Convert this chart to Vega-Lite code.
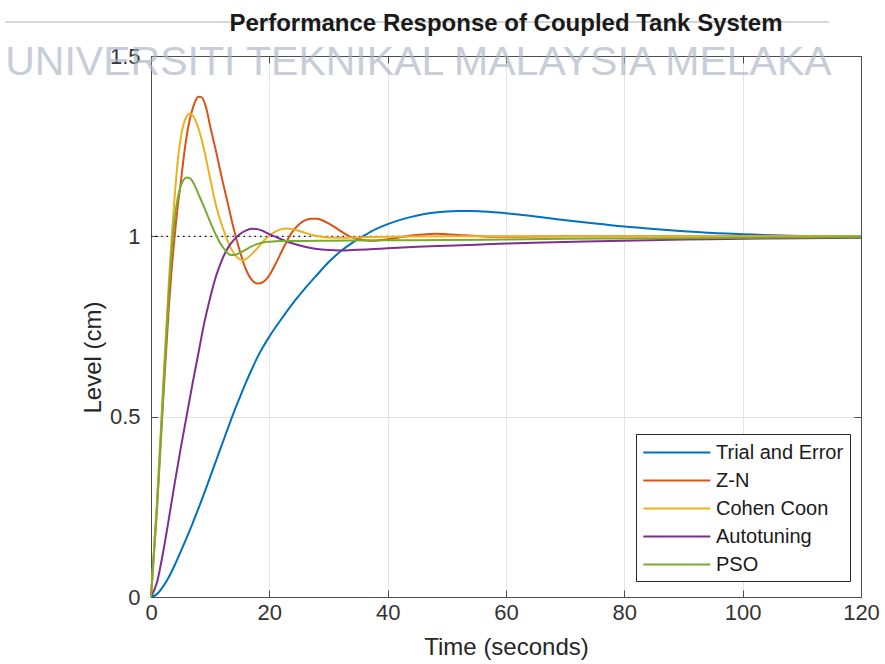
{
  "$schema": "https://vega.github.io/schema/vega-lite/v6.json",
  "width": 710,
  "height": 541,
  "autosize": {"type": "none"},
  "padding": {"left": 151, "top": 56, "right": 24, "bottom": 67},
  "background": "white",
  "config": {
    "font": "Liberation Sans",
    "view": {"stroke": null},
    "axis": {
      "domainColor": "#4d4d4d",
      "domainWidth": 1,
      "tickColor": "#4d4d4d",
      "tickWidth": 1,
      "tickSize": -7,
      "gridColor": "#e3e3e3",
      "gridWidth": 1,
      "labelFlush": false,
      "labelFont": "Liberation Sans",
      "labelFontSize": 22,
      "labelColor": "#333333",
      "titleFont": "Liberation Sans",
      "titleFontSize": 24,
      "titleFontWeight": "normal",
      "titleColor": "#262626"
    }
  },
  "title": {
    "text": "Performance Response of Coupled Tank System",
    "font": "Liberation Sans",
    "fontSize": 24,
    "fontWeight": "bold",
    "color": "#1a1a1a",
    "anchor": "middle",
    "frame": "group",
    "baseline": "alphabetic",
    "offset": -34
  },
  "datasets": {
    "resp": [
      {"s": "Trial and Error", "t": 0, "v": 0},
      {"s": "Trial and Error", "t": 1, "v": 0.008},
      {"s": "Trial and Error", "t": 2, "v": 0.028},
      {"s": "Trial and Error", "t": 3, "v": 0.055},
      {"s": "Trial and Error", "t": 4, "v": 0.088},
      {"s": "Trial and Error", "t": 5, "v": 0.125},
      {"s": "Trial and Error", "t": 6, "v": 0.163},
      {"s": "Trial and Error", "t": 7, "v": 0.203},
      {"s": "Trial and Error", "t": 8, "v": 0.245},
      {"s": "Trial and Error", "t": 9, "v": 0.288},
      {"s": "Trial and Error", "t": 10, "v": 0.333},
      {"s": "Trial and Error", "t": 11, "v": 0.378},
      {"s": "Trial and Error", "t": 12, "v": 0.423},
      {"s": "Trial and Error", "t": 13, "v": 0.468},
      {"s": "Trial and Error", "t": 14, "v": 0.512},
      {"s": "Trial and Error", "t": 15, "v": 0.553},
      {"s": "Trial and Error", "t": 16, "v": 0.593},
      {"s": "Trial and Error", "t": 17, "v": 0.63},
      {"s": "Trial and Error", "t": 18, "v": 0.665},
      {"s": "Trial and Error", "t": 19, "v": 0.695},
      {"s": "Trial and Error", "t": 20, "v": 0.722},
      {"s": "Trial and Error", "t": 22, "v": 0.77},
      {"s": "Trial and Error", "t": 24, "v": 0.815},
      {"s": "Trial and Error", "t": 26, "v": 0.855},
      {"s": "Trial and Error", "t": 28, "v": 0.892},
      {"s": "Trial and Error", "t": 30, "v": 0.928},
      {"s": "Trial and Error", "t": 32, "v": 0.958},
      {"s": "Trial and Error", "t": 34, "v": 0.982},
      {"s": "Trial and Error", "t": 36, "v": 1.002},
      {"s": "Trial and Error", "t": 38, "v": 1.02},
      {"s": "Trial and Error", "t": 40, "v": 1.034},
      {"s": "Trial and Error", "t": 42, "v": 1.045},
      {"s": "Trial and Error", "t": 44, "v": 1.054},
      {"s": "Trial and Error", "t": 46, "v": 1.061},
      {"s": "Trial and Error", "t": 48, "v": 1.066},
      {"s": "Trial and Error", "t": 50, "v": 1.069},
      {"s": "Trial and Error", "t": 52, "v": 1.07},
      {"s": "Trial and Error", "t": 54, "v": 1.07},
      {"s": "Trial and Error", "t": 56, "v": 1.069},
      {"s": "Trial and Error", "t": 58, "v": 1.067},
      {"s": "Trial and Error", "t": 60, "v": 1.064},
      {"s": "Trial and Error", "t": 64, "v": 1.057},
      {"s": "Trial and Error", "t": 68, "v": 1.049},
      {"s": "Trial and Error", "t": 72, "v": 1.041},
      {"s": "Trial and Error", "t": 76, "v": 1.034},
      {"s": "Trial and Error", "t": 80, "v": 1.027},
      {"s": "Trial and Error", "t": 85, "v": 1.02},
      {"s": "Trial and Error", "t": 90, "v": 1.014},
      {"s": "Trial and Error", "t": 95, "v": 1.009},
      {"s": "Trial and Error", "t": 100, "v": 1.006},
      {"s": "Trial and Error", "t": 105, "v": 1.003},
      {"s": "Trial and Error", "t": 110, "v": 1.001},
      {"s": "Trial and Error", "t": 115, "v": 1.0},
      {"s": "Trial and Error", "t": 120, "v": 1.0},

      {"s": "Z-N", "t": 0, "v": 0},
      {"s": "Z-N", "t": 1, "v": 0.24},
      {"s": "Z-N", "t": 2, "v": 0.53},
      {"s": "Z-N", "t": 3, "v": 0.8},
      {"s": "Z-N", "t": 3.5, "v": 0.91},
      {"s": "Z-N", "t": 4, "v": 1.0},
      {"s": "Z-N", "t": 4.5, "v": 1.08},
      {"s": "Z-N", "t": 5, "v": 1.145},
      {"s": "Z-N", "t": 5.5, "v": 1.215},
      {"s": "Z-N", "t": 6, "v": 1.275},
      {"s": "Z-N", "t": 6.5, "v": 1.32},
      {"s": "Z-N", "t": 7, "v": 1.352},
      {"s": "Z-N", "t": 7.5, "v": 1.375},
      {"s": "Z-N", "t": 8, "v": 1.387},
      {"s": "Z-N", "t": 8.5, "v": 1.386},
      {"s": "Z-N", "t": 9, "v": 1.373},
      {"s": "Z-N", "t": 9.5, "v": 1.345},
      {"s": "Z-N", "t": 10, "v": 1.305},
      {"s": "Z-N", "t": 10.5, "v": 1.27},
      {"s": "Z-N", "t": 11, "v": 1.235},
      {"s": "Z-N", "t": 12, "v": 1.16},
      {"s": "Z-N", "t": 13, "v": 1.09},
      {"s": "Z-N", "t": 14, "v": 1.02},
      {"s": "Z-N", "t": 15, "v": 0.96},
      {"s": "Z-N", "t": 16, "v": 0.91},
      {"s": "Z-N", "t": 17, "v": 0.88},
      {"s": "Z-N", "t": 18, "v": 0.869},
      {"s": "Z-N", "t": 19, "v": 0.874},
      {"s": "Z-N", "t": 20, "v": 0.892},
      {"s": "Z-N", "t": 21, "v": 0.922},
      {"s": "Z-N", "t": 22, "v": 0.955},
      {"s": "Z-N", "t": 23, "v": 0.988},
      {"s": "Z-N", "t": 24, "v": 1.015},
      {"s": "Z-N", "t": 25, "v": 1.033},
      {"s": "Z-N", "t": 26, "v": 1.044},
      {"s": "Z-N", "t": 27, "v": 1.049},
      {"s": "Z-N", "t": 28, "v": 1.049},
      {"s": "Z-N", "t": 29, "v": 1.044},
      {"s": "Z-N", "t": 30, "v": 1.036},
      {"s": "Z-N", "t": 31, "v": 1.026},
      {"s": "Z-N", "t": 32, "v": 1.015},
      {"s": "Z-N", "t": 33, "v": 1.005},
      {"s": "Z-N", "t": 34, "v": 0.997},
      {"s": "Z-N", "t": 35, "v": 0.992},
      {"s": "Z-N", "t": 36, "v": 0.989},
      {"s": "Z-N", "t": 37, "v": 0.988},
      {"s": "Z-N", "t": 38, "v": 0.988},
      {"s": "Z-N", "t": 39, "v": 0.99},
      {"s": "Z-N", "t": 40, "v": 0.992},
      {"s": "Z-N", "t": 42, "v": 0.997},
      {"s": "Z-N", "t": 44, "v": 1.002},
      {"s": "Z-N", "t": 46, "v": 1.005},
      {"s": "Z-N", "t": 48, "v": 1.007},
      {"s": "Z-N", "t": 50, "v": 1.006},
      {"s": "Z-N", "t": 52, "v": 1.004},
      {"s": "Z-N", "t": 55, "v": 1.001},
      {"s": "Z-N", "t": 58, "v": 0.999},
      {"s": "Z-N", "t": 62, "v": 0.999},
      {"s": "Z-N", "t": 70, "v": 1.0},
      {"s": "Z-N", "t": 80, "v": 1.0},
      {"s": "Z-N", "t": 100, "v": 1.0},
      {"s": "Z-N", "t": 120, "v": 1.0},

      {"s": "Cohen Coon", "t": 0, "v": 0},
      {"s": "Cohen Coon", "t": 1, "v": 0.26},
      {"s": "Cohen Coon", "t": 2, "v": 0.57},
      {"s": "Cohen Coon", "t": 3, "v": 0.87},
      {"s": "Cohen Coon", "t": 3.5, "v": 1.0},
      {"s": "Cohen Coon", "t": 4, "v": 1.11},
      {"s": "Cohen Coon", "t": 4.5, "v": 1.205},
      {"s": "Cohen Coon", "t": 5, "v": 1.27},
      {"s": "Cohen Coon", "t": 5.5, "v": 1.31},
      {"s": "Cohen Coon", "t": 6, "v": 1.332},
      {"s": "Cohen Coon", "t": 6.5, "v": 1.34},
      {"s": "Cohen Coon", "t": 7, "v": 1.336},
      {"s": "Cohen Coon", "t": 7.5, "v": 1.322},
      {"s": "Cohen Coon", "t": 8, "v": 1.3},
      {"s": "Cohen Coon", "t": 8.5, "v": 1.272},
      {"s": "Cohen Coon", "t": 9, "v": 1.238},
      {"s": "Cohen Coon", "t": 9.5, "v": 1.2},
      {"s": "Cohen Coon", "t": 10, "v": 1.16},
      {"s": "Cohen Coon", "t": 11, "v": 1.085},
      {"s": "Cohen Coon", "t": 12, "v": 1.03},
      {"s": "Cohen Coon", "t": 12.5, "v": 1.007},
      {"s": "Cohen Coon", "t": 13, "v": 0.985},
      {"s": "Cohen Coon", "t": 14, "v": 0.953},
      {"s": "Cohen Coon", "t": 15, "v": 0.936},
      {"s": "Cohen Coon", "t": 15.5, "v": 0.934},
      {"s": "Cohen Coon", "t": 16, "v": 0.937},
      {"s": "Cohen Coon", "t": 17, "v": 0.95},
      {"s": "Cohen Coon", "t": 18, "v": 0.968},
      {"s": "Cohen Coon", "t": 19, "v": 0.987},
      {"s": "Cohen Coon", "t": 20, "v": 1.002},
      {"s": "Cohen Coon", "t": 21, "v": 1.013},
      {"s": "Cohen Coon", "t": 22, "v": 1.02},
      {"s": "Cohen Coon", "t": 23, "v": 1.022},
      {"s": "Cohen Coon", "t": 24, "v": 1.02},
      {"s": "Cohen Coon", "t": 25, "v": 1.015},
      {"s": "Cohen Coon", "t": 26, "v": 1.01},
      {"s": "Cohen Coon", "t": 27, "v": 1.005},
      {"s": "Cohen Coon", "t": 28, "v": 1.001},
      {"s": "Cohen Coon", "t": 30, "v": 0.997},
      {"s": "Cohen Coon", "t": 32, "v": 0.996},
      {"s": "Cohen Coon", "t": 35, "v": 0.997},
      {"s": "Cohen Coon", "t": 40, "v": 0.999},
      {"s": "Cohen Coon", "t": 50, "v": 1.0},
      {"s": "Cohen Coon", "t": 80, "v": 1.0},
      {"s": "Cohen Coon", "t": 120, "v": 1.0},

      {"s": "Autotuning", "t": 0, "v": 0},
      {"s": "Autotuning", "t": 1, "v": 0.04},
      {"s": "Autotuning", "t": 2, "v": 0.12},
      {"s": "Autotuning", "t": 3, "v": 0.215},
      {"s": "Autotuning", "t": 4, "v": 0.315},
      {"s": "Autotuning", "t": 5, "v": 0.41},
      {"s": "Autotuning", "t": 6, "v": 0.5},
      {"s": "Autotuning", "t": 7, "v": 0.59},
      {"s": "Autotuning", "t": 8, "v": 0.675},
      {"s": "Autotuning", "t": 9, "v": 0.76},
      {"s": "Autotuning", "t": 10, "v": 0.83},
      {"s": "Autotuning", "t": 11, "v": 0.89},
      {"s": "Autotuning", "t": 12, "v": 0.935},
      {"s": "Autotuning", "t": 13, "v": 0.968},
      {"s": "Autotuning", "t": 14, "v": 0.99},
      {"s": "Autotuning", "t": 15, "v": 1.006},
      {"s": "Autotuning", "t": 16, "v": 1.016},
      {"s": "Autotuning", "t": 17, "v": 1.021},
      {"s": "Autotuning", "t": 18, "v": 1.02},
      {"s": "Autotuning", "t": 19, "v": 1.014},
      {"s": "Autotuning", "t": 20, "v": 1.006},
      {"s": "Autotuning", "t": 21, "v": 0.999},
      {"s": "Autotuning", "t": 22, "v": 0.992},
      {"s": "Autotuning", "t": 24, "v": 0.98},
      {"s": "Autotuning", "t": 26, "v": 0.971},
      {"s": "Autotuning", "t": 28, "v": 0.965},
      {"s": "Autotuning", "t": 30, "v": 0.962},
      {"s": "Autotuning", "t": 32, "v": 0.961},
      {"s": "Autotuning", "t": 34, "v": 0.962},
      {"s": "Autotuning", "t": 37, "v": 0.964},
      {"s": "Autotuning", "t": 40, "v": 0.967},
      {"s": "Autotuning", "t": 45, "v": 0.971},
      {"s": "Autotuning", "t": 50, "v": 0.974},
      {"s": "Autotuning", "t": 55, "v": 0.977},
      {"s": "Autotuning", "t": 60, "v": 0.98},
      {"s": "Autotuning", "t": 70, "v": 0.984},
      {"s": "Autotuning", "t": 80, "v": 0.988},
      {"s": "Autotuning", "t": 90, "v": 0.991},
      {"s": "Autotuning", "t": 100, "v": 0.993},
      {"s": "Autotuning", "t": 110, "v": 0.995},
      {"s": "Autotuning", "t": 120, "v": 0.996},

      {"s": "PSO", "t": 0, "v": 0},
      {"s": "PSO", "t": 1, "v": 0.25},
      {"s": "PSO", "t": 2, "v": 0.55},
      {"s": "PSO", "t": 3, "v": 0.84},
      {"s": "PSO", "t": 3.5, "v": 0.96},
      {"s": "PSO", "t": 4, "v": 1.05},
      {"s": "PSO", "t": 4.5, "v": 1.105},
      {"s": "PSO", "t": 5, "v": 1.138},
      {"s": "PSO", "t": 5.5, "v": 1.156},
      {"s": "PSO", "t": 6, "v": 1.163},
      {"s": "PSO", "t": 6.5, "v": 1.162},
      {"s": "PSO", "t": 7, "v": 1.153},
      {"s": "PSO", "t": 7.5, "v": 1.137},
      {"s": "PSO", "t": 8, "v": 1.118},
      {"s": "PSO", "t": 9, "v": 1.08},
      {"s": "PSO", "t": 10, "v": 1.04},
      {"s": "PSO", "t": 11, "v": 1.003},
      {"s": "PSO", "t": 12, "v": 0.973},
      {"s": "PSO", "t": 13, "v": 0.953},
      {"s": "PSO", "t": 13.5, "v": 0.948},
      {"s": "PSO", "t": 14, "v": 0.948},
      {"s": "PSO", "t": 15, "v": 0.954},
      {"s": "PSO", "t": 16, "v": 0.963},
      {"s": "PSO", "t": 17, "v": 0.972},
      {"s": "PSO", "t": 18, "v": 0.979},
      {"s": "PSO", "t": 19, "v": 0.983},
      {"s": "PSO", "t": 20, "v": 0.985},
      {"s": "PSO", "t": 22, "v": 0.987},
      {"s": "PSO", "t": 25, "v": 0.987},
      {"s": "PSO", "t": 30, "v": 0.988},
      {"s": "PSO", "t": 40, "v": 0.989},
      {"s": "PSO", "t": 50, "v": 0.99},
      {"s": "PSO", "t": 60, "v": 0.991},
      {"s": "PSO", "t": 70, "v": 0.993},
      {"s": "PSO", "t": 80, "v": 0.994},
      {"s": "PSO", "t": 90, "v": 0.995},
      {"s": "PSO", "t": 100, "v": 0.996},
      {"s": "PSO", "t": 110, "v": 0.997},
      {"s": "PSO", "t": 120, "v": 0.998}
    ]
  },
  "layer": [
    {
      "data": {"values": [{}]},
      "mark": {"type": "rule", "color": "#000000", "strokeWidth": 1.2, "strokeDash": [1.5, 4]},
      "encoding": {
        "y": {"datum": 1, "type": "quantitative", "scale": {"domain": [0, 1.5]}, "axis": null}
      }
    },
    {
      "data": {"name": "resp"},
      "mark": {"type": "line", "strokeWidth": 2, "interpolate": "monotone"},
      "encoding": {
        "x": {
          "field": "t", "type": "quantitative",
          "scale": {"domain": [0, 120]},
          "axis": {"orient": "bottom", "values": [0, 20, 40, 60, 80, 100, 120], "grid": true, "title": "Time (seconds)", "labelPadding": 12, "titlePadding": 12}
        },
        "y": {
          "field": "v", "type": "quantitative",
          "scale": {"domain": [0, 1.5]},
          "axis": {"orient": "left", "values": [0, 0.5, 1, 1.5], "format": "~g", "grid": true, "title": "Level (cm)", "labelPadding": 18, "titlePadding": 4, "titleY": 301}
        },
        "color": {
          "field": "s", "type": "nominal",
          "scale": {
            "domain": ["Trial and Error", "Z-N", "Cohen Coon", "Autotuning", "PSO"],
            "range": ["#0072BD", "#D95319", "#EDB120", "#7E2F8E", "#77AC30"]
          },
          "legend": {
            "orient": "none", "legendX": 485, "legendY": 378,
            "title": null,
            "symbolType": "M-1,0H5", "symbolSize": 500, "symbolStrokeWidth": 2,
            "labelFont": "Liberation Sans", "labelFontSize": 20, "labelColor": "#1a1a1a", "labelOffset": 49,
            "strokeColor": "#262626", "fillColor": "white", "padding": 6, "rowPadding": 5
          }
        }
      }
    },
    {
      "data": {"values": [{}]},
      "mark": {"type": "text", "text": "UNIVERSITI TEKNIKAL MALAYSIA MELAKA", "font": "Liberation Sans", "fontSize": 41, "color": "#aab3c6", "opacity": 0.65, "align": "center", "baseline": "alphabetic"},
      "encoding": {
        "x": {"datum": 45.2, "type": "quantitative", "scale": {"domain": [0, 120]}, "axis": {"orient": "top", "values": [0, 20, 40, 60, 80, 100, 120], "labels": false, "title": null, "grid": false}},
        "y": {"datum": 1.446, "type": "quantitative", "scale": {"domain": [0, 1.5]}, "axis": {"orient": "right", "values": [0, 0.5, 1, 1.5], "labels": false, "title": null, "grid": false}}
      }
    },
    {
      "data": {"values": [{}]},
      "mark": {"type": "rule", "color": "#c8c8c8", "strokeWidth": 1.5},
      "encoding": {
        "x": {"datum": -24.6, "type": "quantitative", "scale": {"domain": [0, 120]}, "axis": null},
        "x2": {"datum": 114.6},
        "y": {"datum": 1.594, "type": "quantitative", "scale": {"domain": [0, 1.5]}, "axis": null}
      }
    }
  ],
  "resolve": {"axis": {"x": "independent", "y": "independent"}}
}
